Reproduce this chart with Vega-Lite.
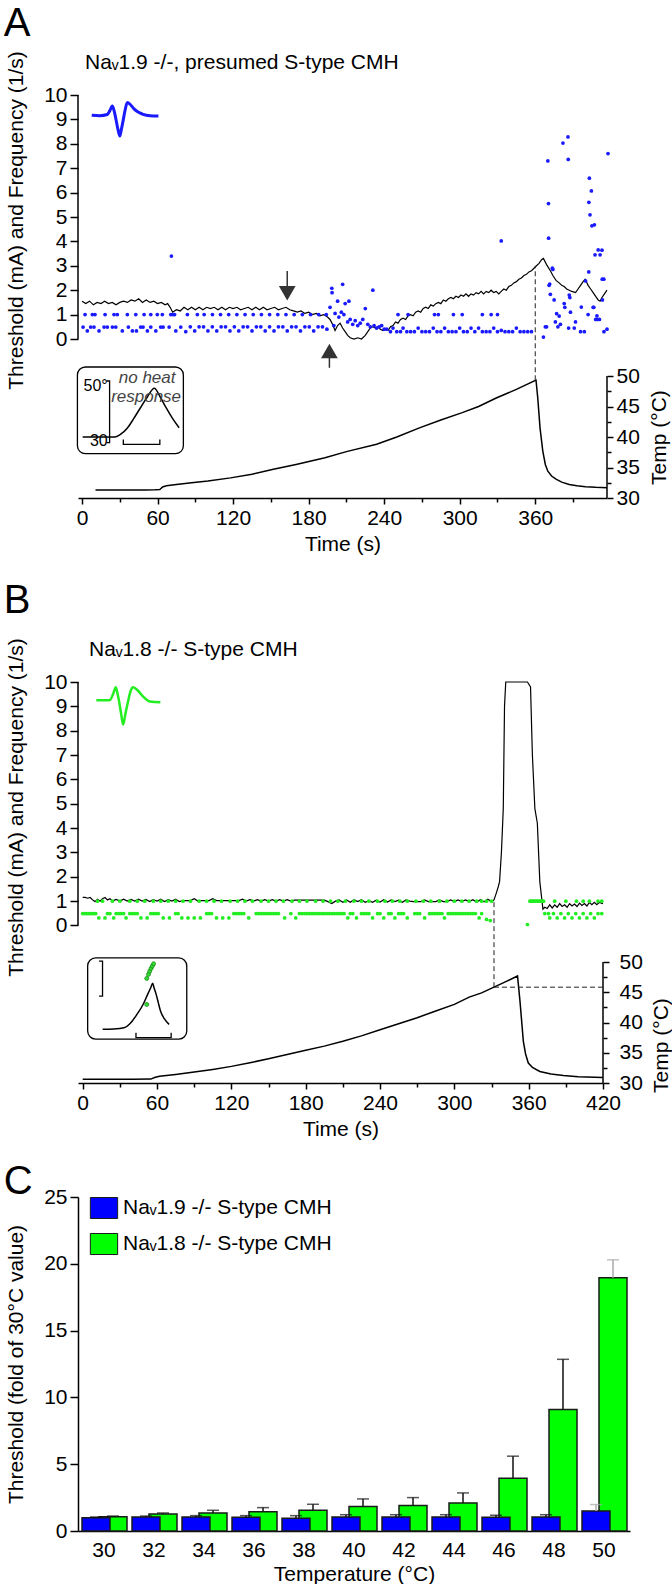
{
"$schema":"https://vega.github.io/schema/vega-lite/v6.json",
"padding":{"left":3,"right":0,"top":3,"bottom":0},
"background":"white",
"config":{
 "font":"Liberation Sans",
 "view":{"stroke":null},
 "title":{"font":"Liberation Sans","fontWeight":"normal","color":"#000"},
 "axis":{"labelFont":"Liberation Sans","titleFont":"Liberation Sans","labelFontSize":21,"titleFontSize":21,"titleFontWeight":"normal","labelColor":"#000","titleColor":"#000","domainColor":"#000","tickColor":"#000","domainWidth":1.5,"tickWidth":1.5,"grid":false,"labelOverlap":false,"labelFlush":false,"labelBound":false},
 "legend":{"labelFont":"Liberation Sans"}
},
"datasets":{
 "thrA":[{"t":0,"v":1.55},{"t":3,"v":1.45},{"t":6,"v":1.55},{"t":9,"v":1.4},{"t":12,"v":1.5},{"t":15,"v":1.45},{"t":18,"v":1.55},{"t":21,"v":1.45},{"t":24,"v":1.5},{"t":27,"v":1.4},{"t":30,"v":1.5},{"t":33,"v":1.55},{"t":36,"v":1.5},{"t":39,"v":1.6},{"t":42,"v":1.55},{"t":45,"v":1.65},{"t":48,"v":1.5},{"t":51,"v":1.6},{"t":54,"v":1.5},{"t":57,"v":1.55},{"t":60,"v":1.45},{"t":63,"v":1.5},{"t":66,"v":1.4},{"t":68,"v":1.45},{"t":70,"v":1.3},{"t":72,"v":1.1},{"t":75,"v":1.2},{"t":78,"v":1.15},{"t":81,"v":1.3},{"t":84,"v":1.2},{"t":87,"v":1.3},{"t":90,"v":1.2},{"t":93,"v":1.3},{"t":96,"v":1.2},{"t":99,"v":1.3},{"t":102,"v":1.25},{"t":105,"v":1.3},{"t":108,"v":1.2},{"t":111,"v":1.3},{"t":114,"v":1.2},{"t":117,"v":1.3},{"t":120,"v":1.25},{"t":123,"v":1.3},{"t":126,"v":1.2},{"t":129,"v":1.25},{"t":132,"v":1.3},{"t":135,"v":1.2},{"t":138,"v":1.3},{"t":141,"v":1.2},{"t":144,"v":1.3},{"t":147,"v":1.2},{"t":150,"v":1.25},{"t":153,"v":1.3},{"t":156,"v":1.2},{"t":159,"v":1.25},{"t":162,"v":1.3},{"t":165,"v":1.2},{"t":168,"v":1.15},{"t":171,"v":1.1},{"t":174,"v":1.15},{"t":177,"v":1.05},{"t":180,"v":1.1},{"t":183,"v":1.0},{"t":186,"v":1.05},{"t":189,"v":0.95},{"t":192,"v":1.0},{"t":195,"v":0.9},{"t":197,"v":0.8},{"t":199,"v":0.6},{"t":201,"v":0.35},{"t":203,"v":0.55},{"t":205,"v":0.65},{"t":207,"v":0.45},{"t":209,"v":0.3},{"t":211,"v":0.15},{"t":213,"v":0.05},{"t":216,"v":0.0},{"t":219,"v":0.05},{"t":222,"v":0.0},{"t":225,"v":0.15},{"t":227,"v":0.3},{"t":229,"v":0.45},{"t":231,"v":0.5},{"t":233,"v":0.45},{"t":235,"v":0.5},{"t":237,"v":0.4},{"t":239,"v":0.35},{"t":241,"v":0.4},{"t":243,"v":0.35},{"t":245,"v":0.5},{"t":247,"v":0.55},{"t":249,"v":0.7},{"t":251,"v":0.65},{"t":253,"v":0.8},{"t":255,"v":0.85},{"t":257,"v":0.8},{"t":259,"v":0.95},{"t":261,"v":1.0},{"t":263,"v":0.95},{"t":265,"v":1.1},{"t":267,"v":1.15},{"t":269,"v":1.1},{"t":271,"v":1.25},{"t":273,"v":1.3},{"t":275,"v":1.25},{"t":277,"v":1.4},{"t":279,"v":1.35},{"t":281,"v":1.45},{"t":283,"v":1.5},{"t":285,"v":1.45},{"t":287,"v":1.6},{"t":289,"v":1.55},{"t":291,"v":1.65},{"t":293,"v":1.7},{"t":295,"v":1.65},{"t":297,"v":1.75},{"t":299,"v":1.7},{"t":301,"v":1.8},{"t":303,"v":1.75},{"t":305,"v":1.85},{"t":307,"v":1.75},{"t":309,"v":1.85},{"t":311,"v":1.8},{"t":313,"v":1.9},{"t":315,"v":1.85},{"t":317,"v":1.95},{"t":319,"v":1.85},{"t":321,"v":1.95},{"t":323,"v":1.9},{"t":325,"v":2.0},{"t":327,"v":1.9},{"t":329,"v":1.95},{"t":331,"v":1.85},{"t":333,"v":1.95},{"t":335,"v":2.05},{"t":337,"v":2.0},{"t":339,"v":2.15},{"t":341,"v":2.2},{"t":343,"v":2.3},{"t":345,"v":2.35},{"t":347,"v":2.45},{"t":349,"v":2.5},{"t":351,"v":2.6},{"t":353,"v":2.65},{"t":355,"v":2.75},{"t":357,"v":2.8},{"t":359,"v":2.9},{"t":361,"v":3.0},{"t":363,"v":3.1},{"t":365,"v":3.25},{"t":366.5,"v":3.3},{"t":369,"v":3.05},{"t":372,"v":2.8},{"t":374,"v":2.6},{"t":376.5,"v":2.4},{"t":379,"v":2.3},{"t":381,"v":2.2},{"t":383,"v":2.15},{"t":385,"v":2.05},{"t":387,"v":2.0},{"t":389,"v":1.95},{"t":392,"v":1.9},{"t":394,"v":2.05},{"t":396,"v":2.2},{"t":398,"v":2.35},{"t":399.6,"v":2.45},{"t":402,"v":2.2},{"t":404,"v":2.05},{"t":406,"v":1.9},{"t":408,"v":1.75},{"t":410,"v":1.6},{"t":411.5,"v":1.55},{"t":413,"v":1.7},{"t":415,"v":1.85},{"t":417,"v":2.0}],
 "freqA":[{"t":2.4,"f":1},{"t":8.2,"f":1},{"t":10.3,"f":1},{"t":18.3,"f":1},{"t":25.4,"f":1},{"t":28,"f":1},{"t":36,"f":1},{"t":42.7,"f":1},{"t":49.3,"f":1},{"t":54.6,"f":1},{"t":59.8,"f":1},{"t":63.8,"f":1},{"t":70.5,"f":1},{"t":72.3,"f":1},{"t":73.5,"f":1},{"t":83.7,"f":1},{"t":91.6,"f":1},{"t":97,"f":1},{"t":103.6,"f":1},{"t":110,"f":1},{"t":116.5,"f":1},{"t":123,"f":1},{"t":129.5,"f":1},{"t":136,"f":1},{"t":142.5,"f":1},{"t":149,"f":1},{"t":155.5,"f":1},{"t":162,"f":1},{"t":168.5,"f":1},{"t":175,"f":1},{"t":181.5,"f":1},{"t":188,"f":1},{"t":194,"f":1},
  {"t":0.8,"f":0.49},{"t":4.2,"f":0.33},{"t":6.9,"f":0.49},{"t":9.5,"f":0.49},{"t":13.5,"f":0.33},{"t":17.5,"f":0.49},{"t":20.1,"f":0.49},{"t":24.1,"f":0.49},{"t":26.8,"f":0.49},{"t":32,"f":0.33},{"t":36.8,"f":0.49},{"t":40,"f":0.33},{"t":43.2,"f":0.33},{"t":46.6,"f":0.49},{"t":48.5,"f":0.49},{"t":51.9,"f":0.33},{"t":54.6,"f":0.49},{"t":58.6,"f":0.33},{"t":62.5,"f":0.49},{"t":64.4,"f":0.49},{"t":69.2,"f":0.49},{"t":74.5,"f":0.33},{"t":78.4,"f":0.49},{"t":82.4,"f":0.3},{"t":86,"f":0.5},{"t":89.5,"f":0.33},{"t":93,"f":0.5},{"t":96.5,"f":0.5},{"t":100,"f":0.33},{"t":103.5,"f":0.5},{"t":107,"f":0.33},{"t":110.5,"f":0.5},{"t":114,"f":0.5},{"t":117.5,"f":0.33},{"t":121,"f":0.5},{"t":124.5,"f":0.33},{"t":128,"f":0.5},{"t":131.5,"f":0.5},{"t":135,"f":0.33},{"t":138.5,"f":0.5},{"t":142,"f":0.5},{"t":145.5,"f":0.33},{"t":149,"f":0.5},{"t":152.5,"f":0.33},{"t":156,"f":0.5},{"t":159.5,"f":0.5},{"t":163,"f":0.33},{"t":166.5,"f":0.5},{"t":170,"f":0.5},{"t":173.5,"f":0.33},{"t":177,"f":0.5},{"t":180.5,"f":0.5},{"t":184,"f":0.33},{"t":187.5,"f":0.5},{"t":191,"f":0.5},{"t":194.5,"f":0.4},
  {"t":71,"f":3.4},
  {"t":197,"f":1.3},{"t":198.4,"f":2.08},{"t":198.6,"f":1.9},{"t":200,"f":0.55},{"t":201,"f":1.05},{"t":203,"f":1.55},{"t":204,"f":0.9},{"t":206,"f":1.1},{"t":207,"f":2.24},{"t":208,"f":1.0},{"t":209,"f":1.45},{"t":211,"f":0.7},{"t":212,"f":1.55},{"t":213,"f":0.8},{"t":215,"f":0.6},{"t":217,"f":0.75},{"t":219,"f":0.55},{"t":221,"f":0.65},{"t":223,"f":0.8},{"t":225,"f":1.25},{"t":227,"f":0.6},{"t":229,"f":0.5},{"t":231,"f":2.0},{"t":232,"f":0.55},{"t":234,"f":0.45},{"t":236,"f":0.5},{"t":238,"f":0.55},{"t":240,"f":0.4},
  {"t":251,"f":1},{"t":259,"f":1},{"t":280,"f":1},{"t":283,"f":1},{"t":295,"f":1},{"t":302,"f":1},{"t":318,"f":1},{"t":325,"f":1},{"t":330,"f":1},{"t":333,"f":4.02},
  {"t":242,"f":0.4},{"t":245,"f":0.3},{"t":247,"f":0.45},{"t":250,"f":0.3},{"t":253,"f":0.3},{"t":255,"f":0.45},{"t":258,"f":0.3},{"t":261,"f":0.3},{"t":264,"f":0.3},{"t":267,"f":0.45},{"t":270,"f":0.3},{"t":273,"f":0.3},{"t":276,"f":0.3},{"t":279,"f":0.45},{"t":282,"f":0.3},{"t":285,"f":0.3},{"t":288,"f":0.45},{"t":291,"f":0.3},{"t":294,"f":0.3},{"t":297,"f":0.3},{"t":300,"f":0.45},{"t":303,"f":0.3},{"t":306,"f":0.3},{"t":309,"f":0.45},{"t":312,"f":0.3},{"t":315,"f":0.45},{"t":318,"f":0.3},{"t":321,"f":0.3},{"t":324,"f":0.3},{"t":327,"f":0.45},{"t":330,"f":0.3},{"t":333,"f":0.35},{"t":336,"f":0.3},{"t":339,"f":0.3},{"t":342,"f":0.3},{"t":345,"f":0.45},{"t":348,"f":0.3},{"t":351,"f":0.3},{"t":354,"f":0.3},{"t":357,"f":0.3},
  {"t":366.5,"f":0.08},{"t":368,"f":0.5},{"t":369,"f":0.5},{"t":370,"f":7.3},{"t":370.5,"f":5.55},{"t":370.6,"f":4.13},{"t":371,"f":2.2},{"t":371.5,"f":2.25},{"t":372,"f":1.83},{"t":373.6,"f":2.9},{"t":374,"f":2.85},{"t":375,"f":1.6},{"t":376,"f":0.7},{"t":377,"f":1.04},{"t":379,"f":0.94},{"t":378,"f":0.5},{"t":380,"f":0.6},{"t":382,"f":8.03},{"t":383,"f":1.45},{"t":383.5,"f":1.3},{"t":386,"f":8.28},{"t":386.2,"f":7.36},{"t":387,"f":1.8},{"t":387.5,"f":1.7},{"t":386.5,"f":0.45},{"t":388,"f":1.1},{"t":392,"f":0.7},{"t":391,"f":0.45},{"t":396.6,"f":1.31},{"t":396,"f":0.3},{"t":399,"f":0.3},{"t":400,"f":2.38},{"t":402.5,"f":2.75},{"t":402.6,"f":5.6},{"t":403,"f":6.59},{"t":403.5,"f":5.09},{"t":404.6,"f":6.07},{"t":405,"f":4.64},{"t":402,"f":1.0},{"t":406,"f":1.3},{"t":406.5,"f":1.3},{"t":407,"f":4.68},{"t":407.5,"f":3.45},{"t":408,"f":0.8},{"t":409,"f":0.95},{"t":409.5,"f":0.8},{"t":410,"f":3.65},{"t":411,"f":0.8},{"t":411.5,"f":3.45},{"t":413,"f":3.64},{"t":413.2,"f":2.45},{"t":413.4,"f":1.6},{"t":414.5,"f":2.45},{"t":414.6,"f":0.3},{"t":417,"f":0.4},{"t":417.8,"f":7.6}],
 "wavA":[{"t":7.7,"v":9.17},{"t":14,"v":9.15},{"t":20.1,"v":9.2},{"t":22,"v":9.35},{"t":24.1,"v":9.55},{"t":25.5,"v":9.35},{"t":26.7,"v":9.07},{"t":28.5,"v":8.6},{"t":30,"v":8.32},{"t":31.3,"v":8.6},{"t":32.6,"v":8.94},{"t":34.3,"v":9.4},{"t":36,"v":9.69},{"t":38.5,"v":9.6},{"t":41.3,"v":9.43},{"t":44.5,"v":9.3},{"t":47.9,"v":9.22},{"t":54,"v":9.15},{"t":60.7,"v":9.14}],
 "tempA":[{"t":10.7,"c":31.3},{"t":30,"c":31.3},{"t":50,"c":31.3},{"t":58,"c":31.35},{"t":61.8,"c":31.4},{"t":64,"c":31.8},{"t":67,"c":32.0},{"t":75,"c":32.2},{"t":87,"c":32.5},{"t":100,"c":32.8},{"t":118,"c":33.3},{"t":135,"c":33.9},{"t":152,"c":34.7},{"t":170,"c":35.5},{"t":193,"c":36.6},{"t":210,"c":37.6},{"t":234,"c":38.8},{"t":250,"c":40.0},{"t":268,"c":41.5},{"t":285,"c":42.8},{"t":302,"c":44.0},{"t":315,"c":45.0},{"t":329,"c":46.4},{"t":345,"c":47.8},{"t":360.6,"c":49.34},{"t":362,"c":46.4},{"t":363.8,"c":41.5},{"t":366,"c":37.7},{"t":368,"c":35.5},{"t":370,"c":34.4},{"t":373,"c":33.6},{"t":376.5,"c":33.1},{"t":381,"c":32.6},{"t":387,"c":32.2},{"t":393,"c":32.0},{"t":400,"c":31.85},{"t":408,"c":31.75},{"t":417,"c":31.7}],
 "insA":[{"t":0.5,"c":40.0},{"t":26,"c":40.0},{"t":31,"c":40.5},{"t":36.2,"c":41.52},{"t":41,"c":43.0},{"t":46.4,"c":44.8},{"t":52,"c":46.6},{"t":57.4,"c":47.98},{"t":62,"c":46.6},{"t":66.8,"c":44.8},{"t":72,"c":43.0},{"t":77.1,"c":41.52}],
 "brA":[{"o":1,"t":19.3,"c":49.18},{"o":2,"t":21.9,"c":49.18},{"o":3,"t":21.9,"c":39.07},{"o":4,"t":19.3,"c":39.07}],
 "sbA":[{"o":1,"t":32.8,"c":39.6},{"o":2,"t":32.8,"c":38.8},{"o":3,"t":61.8,"c":38.8},{"o":4,"t":61.8,"c":39.6}],
 "labA":[{"t":20.4,"c":48.4,"s":"50°"},{"t":20.4,"c":39.3,"s":"30"}],
 "nhA":[{"t":51.7,"c":49.72,"s":"no heat"},{"t":50.9,"c":46.56,"s":"response"}],
 "thrB":[{"t":0,"v":1.15},{"t":2,"v":1.15},{"t":4,"v":1.12},{"t":6,"v":1.15},{"t":8,"v":1.05},{"t":10,"v":0.98},{"t":12,"v":1.08},{"t":14,"v":1.0},{"t":16,"v":1.1},{"t":18,"v":1.15},{"t":20,"v":1.05},{"t":22,"v":1.1},{"t":24,"v":1.0},{"t":27,"v":1.07},{"t":30,"v":1.0},{"t":33,"v":1.08},{"t":36,"v":1.0},{"t":39,"v":1.07},{"t":42,"v":1.0},{"t":45,"v":1.08},{"t":48,"v":1.0},{"t":51,"v":1.07},{"t":54,"v":0.98},{"t":57,"v":1.06},{"t":60,"v":1.0},{"t":63,"v":1.08},{"t":66,"v":0.98},{"t":69,"v":1.06},{"t":72,"v":1.0},{"t":75,"v":1.08},{"t":78,"v":0.98},{"t":81,"v":1.02},{"t":84,"v":1.02},{"t":87,"v":1.02},{"t":90,"v":1.1},{"t":93,"v":1.0},{"t":96,"v":1.02},{"t":99,"v":1.02},{"t":102,"v":1.02},{"t":105,"v":1.1},{"t":108,"v":1.02},{"t":111,"v":1.02},{"t":114,"v":1.02},{"t":117,"v":1.02},{"t":120,"v":1.02},{"t":123,"v":1.02},{"t":126,"v":1.02},{"t":129,"v":1.08},{"t":132,"v":1.0},{"t":135,"v":1.06},{"t":138,"v":1.0},{"t":141,"v":1.06},{"t":144,"v":1.0},{"t":147,"v":1.06},{"t":150,"v":1.0},{"t":153,"v":1.06},{"t":156,"v":1.0},{"t":159,"v":1.06},{"t":162,"v":1.0},{"t":165,"v":1.06},{"t":168,"v":1.0},{"t":171,"v":1.04},{"t":174,"v":1.04},{"t":177,"v":1.04},{"t":180,"v":1.04},{"t":183,"v":1.04},{"t":186,"v":1.04},{"t":189,"v":1.04},{"t":192,"v":1.04},{"t":195,"v":1.04},{"t":198,"v":0.98},{"t":201,"v":0.9},{"t":204,"v":1.0},{"t":207,"v":1.05},{"t":210,"v":0.95},{"t":213,"v":1.05},{"t":216,"v":0.95},{"t":219,"v":1.06},{"t":222,"v":0.98},{"t":225,"v":1.06},{"t":228,"v":0.95},{"t":231,"v":1.02},{"t":234,"v":0.95},{"t":237,"v":1.04},{"t":240,"v":0.96},{"t":243,"v":1.06},{"t":246,"v":0.96},{"t":249,"v":1.05},{"t":252,"v":0.98},{"t":255,"v":1.04},{"t":258,"v":0.95},{"t":261,"v":1.05},{"t":264,"v":1.0},{"t":267,"v":0.98},{"t":270,"v":0.98},{"t":273,"v":0.98},{"t":276,"v":1.05},{"t":279,"v":0.98},{"t":282,"v":0.98},{"t":285,"v":0.98},{"t":288,"v":1.05},{"t":291,"v":0.98},{"t":294,"v":0.98},{"t":297,"v":1.05},{"t":300,"v":0.98},{"t":303,"v":1.05},{"t":306,"v":0.98},{"t":309,"v":1.05},{"t":312,"v":0.98},{"t":315,"v":1.06},{"t":318,"v":0.95},{"t":321,"v":1.06},{"t":324,"v":0.97},{"t":327,"v":1.08},{"t":330,"v":0.98},{"t":332,"v":1.05},{"t":334,"v":1.35},{"t":335.5,"v":1.6},{"t":336.5,"v":1.8},{"t":338,"v":3.0},{"t":339.5,"v":4.8},{"t":340.5,"v":9.0},{"t":341.5,"v":10},{"t":350,"v":10},{"t":359,"v":10},{"t":361.5,"v":9.8},{"t":363,"v":7.0},{"t":365,"v":4.8},{"t":367,"v":4.2},{"t":369,"v":1.8},{"t":371.5,"v":0.67},{"t":373,"v":0.75},{"t":375,"v":0.7},{"t":377,"v":0.85},{"t":379,"v":0.72},{"t":381,"v":0.85},{"t":383,"v":0.75},{"t":385,"v":0.9},{"t":387,"v":0.78},{"t":389,"v":0.85},{"t":391,"v":0.75},{"t":393,"v":0.9},{"t":395,"v":0.8},{"t":397,"v":0.88},{"t":399,"v":0.78},{"t":401,"v":0.92},{"t":403,"v":0.82},{"t":405,"v":0.9},{"t":407,"v":0.8},{"t":409,"v":0.95},{"t":411,"v":0.85},{"t":413,"v":0.95},{"t":415,"v":0.85},{"t":417,"v":0.95},{"t":420,"v":0.9}],
 "freqB":[{"t":12,"f":1},{"t":16,"f":1},{"t":24,"f":1},{"t":30,"f":1},{"t":38,"f":1},{"t":44,"f":1},{"t":50,"f":1},{"t":57,"f":1},{"t":63,"f":1},{"t":69,"f":1},{"t":75,"f":1},{"t":81,"f":1},{"t":87,"f":1},{"t":94,"f":1},{"t":100,"f":1},{"t":106,"f":1},{"t":112,"f":1},{"t":119,"f":1},{"t":125,"f":1},{"t":131,"f":1},{"t":137,"f":1},{"t":144,"f":1},{"t":150,"f":1},{"t":156,"f":1},{"t":162,"f":1},{"t":169,"f":1},{"t":175,"f":1},{"t":181,"f":1},{"t":188,"f":1},{"t":194,"f":1},{"t":200,"f":1},{"t":206,"f":1},{"t":212,"f":1},{"t":219,"f":1},{"t":225,"f":1},{"t":231,"f":1},{"t":238,"f":1},{"t":244,"f":1},{"t":250,"f":1},{"t":256,"f":1},{"t":262,"f":1},{"t":269,"f":1},{"t":275,"f":1},{"t":281,"f":1},{"t":288,"f":1},{"t":294,"f":1},{"t":300,"f":1},{"t":306,"f":1},{"t":312,"f":1},{"t":318,"f":1},{"t":322,"f":1},{"t":326,"f":1},{"t":330,"f":1},
  {"t":0,"f":0.49},{"t":1.5,"f":0.49},{"t":3,"f":0.49},{"t":4.5,"f":0.49},{"t":6,"f":0.49},{"t":7.5,"f":0.49},{"t":9,"f":0.49},{"t":10.5,"f":0.49},{"t":20,"f":0.49},{"t":22,"f":0.49},{"t":27,"f":0.49},{"t":29,"f":0.49},{"t":31,"f":0.49},{"t":33,"f":0.49},{"t":38,"f":0.49},{"t":40,"f":0.49},{"t":42,"f":0.49},{"t":44,"f":0.49},{"t":55,"f":0.49},{"t":57,"f":0.49},{"t":59,"f":0.49},{"t":61,"f":0.49},{"t":75,"f":0.49},{"t":77,"f":0.49},{"t":100,"f":0.49},{"t":102,"f":0.49},{"t":104,"f":0.49},{"t":122,"f":0.49},{"t":124,"f":0.49},{"t":126,"f":0.49},{"t":128,"f":0.49},{"t":130,"f":0.49},{"t":140,"f":0.49},{"t":142,"f":0.49},{"t":144,"f":0.49},{"t":146,"f":0.49},{"t":148,"f":0.49},{"t":150,"f":0.49},{"t":152,"f":0.49},{"t":154,"f":0.49},{"t":156,"f":0.49},{"t":158,"f":0.49},{"t":168,"f":0.49},{"t":175,"f":0.49},{"t":177,"f":0.49},{"t":179,"f":0.49},{"t":181,"f":0.49},{"t":183,"f":0.49},{"t":185,"f":0.49},{"t":187,"f":0.49},{"t":189,"f":0.49},{"t":191,"f":0.49},{"t":193,"f":0.49},{"t":195,"f":0.49},{"t":197,"f":0.49},{"t":199,"f":0.49},{"t":201,"f":0.49},{"t":203,"f":0.49},{"t":205,"f":0.49},{"t":207,"f":0.49},{"t":209,"f":0.49},{"t":211,"f":0.49},{"t":216,"f":0.49},{"t":218,"f":0.49},{"t":225,"f":0.49},{"t":227,"f":0.49},{"t":229,"f":0.49},{"t":231,"f":0.49},{"t":238,"f":0.49},{"t":240,"f":0.49},{"t":247,"f":0.49},{"t":249,"f":0.49},{"t":255,"f":0.49},{"t":257,"f":0.49},{"t":259,"f":0.49},{"t":268,"f":0.49},{"t":270,"f":0.49},{"t":272,"f":0.49},{"t":280,"f":0.49},{"t":282,"f":0.49},{"t":284,"f":0.49},{"t":286,"f":0.49},{"t":288,"f":0.49},{"t":290,"f":0.49},{"t":295,"f":0.49},{"t":297,"f":0.49},{"t":299,"f":0.49},{"t":301,"f":0.49},{"t":303,"f":0.49},{"t":305,"f":0.49},{"t":307,"f":0.49},{"t":309,"f":0.49},{"t":311,"f":0.49},{"t":313,"f":0.49},{"t":315,"f":0.49},{"t":317,"f":0.49},{"t":322,"f":0.49},
  {"t":13,"f":0.31},{"t":18,"f":0.31},{"t":25,"f":0.31},{"t":35,"f":0.31},{"t":47,"f":0.31},{"t":52,"f":0.31},{"t":65,"f":0.31},{"t":70,"f":0.31},{"t":80,"f":0.31},{"t":85,"f":0.31},{"t":90,"f":0.31},{"t":95,"f":0.31},{"t":108,"f":0.31},{"t":113,"f":0.31},{"t":118,"f":0.31},{"t":134,"f":0.31},{"t":163,"f":0.31},{"t":172,"f":0.31},{"t":214,"f":0.31},{"t":221,"f":0.31},{"t":234,"f":0.31},{"t":243,"f":0.31},{"t":252,"f":0.31},{"t":262,"f":0.31},{"t":276,"f":0.31},{"t":292,"f":0.31},{"t":320,"f":0.31},{"t":326,"f":0.25},{"t":329,"f":0.2},
  {"t":359,"f":0.04},{"t":361,"f":1},{"t":362,"f":1},{"t":363,"f":1},{"t":364,"f":1},{"t":365,"f":1},{"t":366,"f":1},{"t":367,"f":1},{"t":368,"f":1},{"t":369,"f":1},{"t":370,"f":1},{"t":371,"f":1},{"t":372,"f":1},{"t":381,"f":1},{"t":390,"f":1},{"t":398.6,"f":1},{"t":404,"f":1},{"t":409,"f":1},{"t":416,"f":1},{"t":419,"f":1},
  {"t":373,"f":0.49},{"t":376,"f":0.49},{"t":380,"f":0.49},{"t":386,"f":0.49},{"t":392,"f":0.49},{"t":398,"f":0.49},{"t":404,"f":0.49},{"t":410,"f":0.49},{"t":416,"f":0.49},{"t":419,"f":0.49},{"t":377,"f":0.31},{"t":383,"f":0.31},{"t":389,"f":0.31},{"t":395,"f":0.31},{"t":401,"f":0.31},{"t":407,"f":0.31},{"t":413,"f":0.31}],
 "wavB":[{"t":11,"v":9.25},{"t":21.8,"v":9.25},{"t":24.5,"v":9.5},{"t":26.7,"v":9.78},{"t":28,"v":9.55},{"t":29.4,"v":9.2},{"t":31,"v":8.7},{"t":32.6,"v":8.25},{"t":34.5,"v":8.7},{"t":36.6,"v":9.2},{"t":38.5,"v":9.6},{"t":40.7,"v":9.78},{"t":44.5,"v":9.65},{"t":48.8,"v":9.4},{"t":54.2,"v":9.2},{"t":62.7,"v":9.17}],
 "tempB":[{"t":0,"c":30.6},{"t":20,"c":30.6},{"t":40,"c":30.6},{"t":55,"c":30.65},{"t":58,"c":30.9},{"t":62,"c":31.1},{"t":75,"c":31.4},{"t":90,"c":31.8},{"t":105,"c":32.25},{"t":120,"c":32.75},{"t":135,"c":33.35},{"t":150,"c":34.0},{"t":165,"c":34.7},{"t":180,"c":35.4},{"t":195,"c":36.1},{"t":210,"c":36.9},{"t":225,"c":37.8},{"t":240,"c":38.8},{"t":255,"c":39.8},{"t":270,"c":40.8},{"t":285,"c":41.9},{"t":300,"c":43.0},{"t":312,"c":44.2},{"t":322,"c":44.9},{"t":332,"c":45.85},{"t":342,"c":46.8},{"t":351,"c":47.7},{"t":353,"c":43.5},{"t":355.7,"c":36.9},{"t":357.5,"c":34.8},{"t":359.7,"c":33.3},{"t":363,"c":32.6},{"t":369,"c":31.9},{"t":378,"c":31.5},{"t":388,"c":31.25},{"t":400,"c":31.05},{"t":420,"c":30.9}],
 "insB":[{"t":16.1,"c":38.9},{"t":25,"c":38.95},{"t":33.4,"c":39.15},{"t":39,"c":40.0},{"t":43.8,"c":41.36},{"t":48.5,"c":42.9},{"t":52.4,"c":44.66},{"t":55,"c":45.8},{"t":56.5,"c":46.48},{"t":57.5,"c":45.8},{"t":59.3,"c":44.66},{"t":61,"c":43.3},{"t":62.8,"c":41.9},{"t":66,"c":40.6},{"t":69.7,"c":39.7}],
 "brB":[{"o":1,"t":13.2,"c":50.17},{"o":2,"t":16,"c":50.17},{"o":3,"t":16,"c":44.38},{"o":4,"t":13.2,"c":44.38}],
 "sbB":[{"o":1,"t":43,"c":38.3},{"o":2,"t":43,"c":37.49},{"o":3,"t":71.4,"c":37.49},{"o":4,"t":71.4,"c":38.3}],
 "dotB":[{"t":51.7,"c":47.3},{"t":53.1,"c":47.97},{"t":54.1,"c":48.5},{"t":55.2,"c":48.96},{"t":56.2,"c":49.34},{"t":57.2,"c":49.72},{"t":51.7,"c":43.0}],
 "bars":[
  {"temp":"30","k":"b","series":"Naᵥ1.9 -/- S-type CMH","mean":1.0,"err":1.05},{"temp":"32","k":"b","series":"Naᵥ1.9 -/- S-type CMH","mean":1.05,"err":1.12},{"temp":"34","k":"b","series":"Naᵥ1.9 -/- S-type CMH","mean":1.05,"err":1.15},{"temp":"36","k":"b","series":"Naᵥ1.9 -/- S-type CMH","mean":1.02,"err":1.15},{"temp":"38","k":"b","series":"Naᵥ1.9 -/- S-type CMH","mean":0.95,"err":1.15},{"temp":"40","k":"b","series":"Naᵥ1.9 -/- S-type CMH","mean":1.05,"err":1.22},{"temp":"42","k":"b","series":"Naᵥ1.9 -/- S-type CMH","mean":1.05,"err":1.22},{"temp":"44","k":"b","series":"Naᵥ1.9 -/- S-type CMH","mean":1.05,"err":1.22},{"temp":"46","k":"b","series":"Naᵥ1.9 -/- S-type CMH","mean":1.02,"err":1.18},{"temp":"48","k":"b","series":"Naᵥ1.9 -/- S-type CMH","mean":1.05,"err":1.22},{"temp":"50","k":"b","series":"Naᵥ1.9 -/- S-type CMH","mean":1.5,"err":1.98},
  {"temp":"30","k":"g","series":"Naᵥ1.8 -/- S-type CMH","mean":1.07,"err":1.12},{"temp":"32","k":"g","series":"Naᵥ1.8 -/- S-type CMH","mean":1.27,"err":1.35},{"temp":"34","k":"g","series":"Naᵥ1.8 -/- S-type CMH","mean":1.35,"err":1.55},{"temp":"36","k":"g","series":"Naᵥ1.8 -/- S-type CMH","mean":1.45,"err":1.75},{"temp":"38","k":"g","series":"Naᵥ1.8 -/- S-type CMH","mean":1.55,"err":2.0},{"temp":"40","k":"g","series":"Naᵥ1.8 -/- S-type CMH","mean":1.83,"err":2.4},{"temp":"42","k":"g","series":"Naᵥ1.8 -/- S-type CMH","mean":1.9,"err":2.5},{"temp":"44","k":"g","series":"Naᵥ1.8 -/- S-type CMH","mean":2.1,"err":2.85},{"temp":"46","k":"g","series":"Naᵥ1.8 -/- S-type CMH","mean":3.95,"err":5.6},{"temp":"48","k":"g","series":"Naᵥ1.8 -/- S-type CMH","mean":9.1,"err":12.85},{"temp":"50","k":"g","series":"Naᵥ1.8 -/- S-type CMH","mean":18.95,"err":20.3}]
},
"spacing":23,
"resolve":{"scale":{"color":"independent"},"legend":{"color":"independent"}},
"vconcat":[
 {"spacing":26,"vconcat":[
 {
  "title":{"text":"A","fontSize":40,"anchor":"start","frame":"bounds","offset":7,"dx":-2},
  "vconcat":[{
   "title":{"text":"Naᵥ1.9 -/-, presumed S-type CMH","anchor":"start","frame":"group","fontSize":21,"offset":-22,"dx":7},
   "width":529,"height":403,
   "layer":[
     {"data":{"name":"thrA"},"mark":{"type":"line","color":"#000","strokeWidth":1.2},
      "encoding":{
       "x":{"field":"t","type":"quantitative","scale":{"domain":[-3.2,417],"nice":false,"zero":false},
            "axis":{"values":[0,30,60,90,120,150,180,210,240,270,300,330,360,390],"labelExpr":"datum.value % 60 == 0 ? datum.label : ''","tickSize":{"condition":{"test":"datum.value % 60 == 0","value":6},"value":4},"labelPadding":3,"title":"Time (s)","titlePadding":5}},
       "y":{"field":"v","type":"quantitative","scale":{"domain":[-6.516,10],"nice":false,"zero":false},
            "axis":{"values":[0,1,2,3,4,5,6,7,8,9,10],"domain":false,"tickSize":8,"labelPadding":3,"title":"Threshold (mA) and Frequency (1/s)","titleY":125,"titlePadding":17}}}},
     {"data":{"name":"tempA"},"mark":{"type":"line","color":"#000","strokeWidth":1.5},
      "encoding":{"x":{"field":"t","type":"quantitative","scale":{"domain":[-3.2,417],"nice":false,"zero":false},"axis":null},
                  "y":{"field":"c","type":"quantitative","scale":{"domain":[30,96.07],"nice":false,"zero":false},
                       "axis":{"orient":"right","values":[30,32.5,35,37.5,40,42.5,45,47.5,50],"labelExpr":"datum.value % 5 == 0 ? datum.label : ''","tickSize":{"condition":{"test":"datum.value % 5 == 0","value":6},"value":4},"domain":false,"labelPadding":3,"title":"Temp (°C)","titleAngle":270,"titleBaseline":"top","titleY":342,"titlePadding":9}}}},
     {"data":{"name":"freqA"},"mark":{"type":"point","filled":true,"color":"#1a1aff","size":14,"opacity":1},
      "encoding":{"x":{"field":"t","type":"quantitative","scale":{"domain":[-3.2,417],"nice":false,"zero":false},"axis":null},
                  "y":{"field":"f","type":"quantitative","scale":{"domain":[-6.516,10],"nice":false,"zero":false},"axis":null}}},
     {"data":{"name":"wavA"},"mark":{"type":"line","color":"#1a1aff","strokeWidth":3,"interpolate":"monotone"},
      "encoding":{"x":{"field":"t","type":"quantitative","scale":{"domain":[-3.2,417],"nice":false,"zero":false},"axis":null},
                  "y":{"field":"v","type":"quantitative","scale":{"domain":[-6.516,10],"nice":false,"zero":false},"axis":null}}},
     {"data":{"values":[{"t":163,"a":2.79,"b":2.1},{"t":196.5,"a":-1.18,"b":-0.7}]},"mark":{"type":"rule","color":"#333","strokeWidth":1.5},
      "encoding":{"x":{"field":"t","type":"quantitative","scale":{"domain":[-3.2,417],"nice":false,"zero":false},"axis":null},
                  "y":{"field":"a","type":"quantitative","scale":{"domain":[-6.516,10],"nice":false,"zero":false},"axis":null},"y2":{"field":"b"}}},
     {"data":{"values":[{"t":163,"v":1.88}]},"mark":{"type":"point","shape":"triangle-down","filled":true,"color":"#333","size":280,"opacity":1},
      "encoding":{"x":{"field":"t","type":"quantitative","scale":{"domain":[-3.2,417],"nice":false,"zero":false},"axis":null},
                  "y":{"field":"v","type":"quantitative","scale":{"domain":[-6.516,10],"nice":false,"zero":false},"axis":null}}},
     {"data":{"values":[{"t":196.5,"v":-0.49}]},"mark":{"type":"point","shape":"triangle-up","filled":true,"color":"#333","size":280,"opacity":1},
      "encoding":{"x":{"field":"t","type":"quantitative","scale":{"domain":[-3.2,417],"nice":false,"zero":false},"axis":null},
                  "y":{"field":"v","type":"quantitative","scale":{"domain":[-6.516,10],"nice":false,"zero":false},"axis":null}}},
     {"data":{"values":[{}]},"mark":{"type":"rule","color":"#000","strokeWidth":1.5},
      "encoding":{"x":{"datum":-3.2,"type":"quantitative","scale":{"domain":[-3.2,417],"nice":false,"zero":false},"axis":null},
                  "y":{"datum":0,"type":"quantitative","scale":{"domain":[-6.516,10],"nice":false,"zero":false},"axis":null},"y2":{"datum":10}}},
     {"data":{"values":[{}]},"mark":{"type":"rule","color":"#000","strokeWidth":1.5},
      "encoding":{"x":{"datum":417,"type":"quantitative","scale":{"domain":[-3.2,417],"nice":false,"zero":false},"axis":null},
                  "y":{"datum":30,"type":"quantitative","scale":{"domain":[30,96.07],"nice":false,"zero":false},"axis":null},"y2":{"datum":50}}},
     {"data":{"values":[{}]},"mark":{"type":"rule","color":"#222","strokeWidth":1,"strokeDash":[5,3]},
      "encoding":{"x":{"datum":360,"type":"quantitative","scale":{"domain":[-3.2,417],"nice":false,"zero":false},"axis":null},
                  "y":{"datum":49.3,"type":"quantitative","scale":{"domain":[30,96.07],"nice":false,"zero":false},"axis":null},"y2":{"datum":68.07}}},
     {"data":{"values":[{}]},"mark":{"type":"rect","fill":"white","stroke":"#000","strokeWidth":1.3,"cornerRadius":8},
      "encoding":{"x":{"datum":-3.66,"type":"quantitative","scale":{"domain":[-3.2,417],"nice":false,"zero":false},"axis":null},"x2":{"datum":80.5},
                  "y":{"datum":37.26,"type":"quantitative","scale":{"domain":[30,96.07],"nice":false,"zero":false},"axis":null},"y2":{"datum":51.48}}},
     {"data":{"name":"insA"},"mark":{"type":"line","color":"#000","strokeWidth":1.5,"interpolate":"monotone"},
      "encoding":{"x":{"field":"t","type":"quantitative","scale":{"domain":[-3.2,417],"nice":false,"zero":false},"axis":null},
                  "y":{"field":"c","type":"quantitative","scale":{"domain":[30,96.07],"nice":false,"zero":false},"axis":null}}},
     {"data":{"name":"brA"},"mark":{"type":"line","color":"#000","strokeWidth":1.3},
      "encoding":{"x":{"field":"t","type":"quantitative","scale":{"domain":[-3.2,417],"nice":false,"zero":false},"axis":null},
                  "y":{"field":"c","type":"quantitative","scale":{"domain":[30,96.07],"nice":false,"zero":false},"axis":null},"order":{"field":"o"}}},
     {"data":{"name":"sbA"},"mark":{"type":"line","color":"#000","strokeWidth":1.3},
      "encoding":{"x":{"field":"t","type":"quantitative","scale":{"domain":[-3.2,417],"nice":false,"zero":false},"axis":null},
                  "y":{"field":"c","type":"quantitative","scale":{"domain":[30,96.07],"nice":false,"zero":false},"axis":null},"order":{"field":"o"}}},
     {"data":{"name":"labA"},"mark":{"type":"text","fontSize":16,"align":"right","baseline":"middle","color":"#000"},
      "encoding":{"x":{"field":"t","type":"quantitative","scale":{"domain":[-3.2,417],"nice":false,"zero":false},"axis":null},
                  "y":{"field":"c","type":"quantitative","scale":{"domain":[30,96.07],"nice":false,"zero":false},"axis":null},"text":{"field":"s"}}},
     {"data":{"name":"nhA"},"mark":{"type":"text","fontSize":17,"fontStyle":"italic","align":"center","baseline":"middle","color":"#444"},
      "encoding":{"x":{"field":"t","type":"quantitative","scale":{"domain":[-3.2,417],"nice":false,"zero":false},"axis":null},
                  "y":{"field":"c","type":"quantitative","scale":{"domain":[30,96.07],"nice":false,"zero":false},"axis":null},"text":{"field":"s"}}}
   ],
   "resolve":{"scale":{"y":"independent"},"axis":{"y":"independent","x":"independent"}}
  }]
 },
 {
  "title":{"text":"B","fontSize":40,"anchor":"start","frame":"bounds","offset":17,"dx":-2},
  "vconcat":[{
   "title":{"text":"Naᵥ1.8 -/- S-type CMH","anchor":"start","frame":"group","fontSize":21,"offset":-22,"dx":11},
   "width":525,"height":401,
   "layer":[
     {"data":{"name":"thrB"},"mark":{"type":"line","color":"#000","strokeWidth":1.2},
      "encoding":{
       "x":{"field":"t","type":"quantitative","scale":{"domain":[-3.8,420],"nice":false,"zero":false},
            "axis":{"values":[0,30,60,90,120,150,180,210,240,270,300,330,360,390,420],"labelExpr":"datum.value % 60 == 0 ? datum.label : ''","tickSize":{"condition":{"test":"datum.value % 60 == 0","value":6},"value":4},"labelPadding":3,"title":"Time (s)","titlePadding":5}},
       "y":{"field":"v","type":"quantitative","scale":{"domain":[-6.47,10],"nice":false,"zero":false},
            "axis":{"values":[0,1,2,3,4,5,6,7,8,9,10],"domain":false,"tickSize":8,"labelPadding":3,"title":"Threshold (mA) and Frequency (1/s)","titleY":125,"titlePadding":17}}}},
     {"data":{"name":"tempB"},"mark":{"type":"line","color":"#000","strokeWidth":1.5},
      "encoding":{"x":{"field":"t","type":"quantitative","scale":{"domain":[-3.8,420],"nice":false,"zero":false},"axis":null},
                  "y":{"field":"c","type":"quantitative","scale":{"domain":[30,96.33],"nice":false,"zero":false},
                       "axis":{"orient":"right","values":[30,32.5,35,37.5,40,42.5,45,47.5,50],"labelExpr":"datum.value % 5 == 0 ? datum.label : ''","tickSize":{"condition":{"test":"datum.value % 5 == 0","value":6},"value":4},"domain":false,"labelPadding":10,"title":"Temp (°C)","titleAngle":270,"titleBaseline":"top","titleY":363,"titlePadding":8}}}},
     {"data":{"name":"freqB"},"mark":{"type":"point","filled":true,"color":"#22ee22","size":14,"opacity":1},
      "encoding":{"x":{"field":"t","type":"quantitative","scale":{"domain":[-3.8,420],"nice":false,"zero":false},"axis":null},
                  "y":{"field":"f","type":"quantitative","scale":{"domain":[-6.47,10],"nice":false,"zero":false},"axis":null}}},
     {"data":{"name":"wavB"},"mark":{"type":"line","color":"#22ee22","strokeWidth":2.5,"interpolate":"monotone"},
      "encoding":{"x":{"field":"t","type":"quantitative","scale":{"domain":[-3.8,420],"nice":false,"zero":false},"axis":null},
                  "y":{"field":"v","type":"quantitative","scale":{"domain":[-6.47,10],"nice":false,"zero":false},"axis":null}}},
     {"data":{"values":[{}]},"mark":{"type":"rule","color":"#000","strokeWidth":1.5},
      "encoding":{"x":{"datum":-3.8,"type":"quantitative","scale":{"domain":[-3.8,420],"nice":false,"zero":false},"axis":null},
                  "y":{"datum":0,"type":"quantitative","scale":{"domain":[-6.47,10],"nice":false,"zero":false},"axis":null},"y2":{"datum":10}}},
     {"data":{"values":[{}]},"mark":{"type":"rule","color":"#000","strokeWidth":1.5},
      "encoding":{"x":{"datum":420,"type":"quantitative","scale":{"domain":[-3.8,420],"nice":false,"zero":false},"axis":null},
                  "y":{"datum":30,"type":"quantitative","scale":{"domain":[30,96.33],"nice":false,"zero":false},"axis":null},"y2":{"datum":50}}},
     {"data":{"values":[{}]},"mark":{"type":"rule","color":"#222","strokeWidth":1,"strokeDash":[5,3]},
      "encoding":{"x":{"datum":332,"type":"quantitative","scale":{"domain":[-3.8,420],"nice":false,"zero":false},"axis":null},
                  "y":{"datum":45.85,"type":"quantitative","scale":{"domain":[30,96.33],"nice":false,"zero":false},"axis":null},"y2":{"datum":60.1}}},
     {"data":{"values":[{}]},"mark":{"type":"rule","color":"#222","strokeWidth":1,"strokeDash":[5,3]},
      "encoding":{"x":{"datum":332,"type":"quantitative","scale":{"domain":[-3.8,420],"nice":false,"zero":false},"axis":null},"x2":{"datum":420},
                  "y":{"datum":45.85,"type":"quantitative","scale":{"domain":[30,96.33],"nice":false,"zero":false},"axis":null}}},
     {"data":{"values":[{}]},"mark":{"type":"rect","fill":"white","stroke":"#000","strokeWidth":1.3,"cornerRadius":8},
      "encoding":{"x":{"datum":4.0,"type":"quantitative","scale":{"domain":[-3.8,420],"nice":false,"zero":false},"axis":null},"x2":{"datum":84},
                  "y":{"datum":37.27,"type":"quantitative","scale":{"domain":[30,96.33],"nice":false,"zero":false},"axis":null},"y2":{"datum":50.7}}},
     {"data":{"name":"insB"},"mark":{"type":"line","color":"#000","strokeWidth":1.5,"interpolate":"monotone"},
      "encoding":{"x":{"field":"t","type":"quantitative","scale":{"domain":[-3.8,420],"nice":false,"zero":false},"axis":null},
                  "y":{"field":"c","type":"quantitative","scale":{"domain":[30,96.33],"nice":false,"zero":false},"axis":null}}},
     {"data":{"name":"brB"},"mark":{"type":"line","color":"#000","strokeWidth":1.3},
      "encoding":{"x":{"field":"t","type":"quantitative","scale":{"domain":[-3.8,420],"nice":false,"zero":false},"axis":null},
                  "y":{"field":"c","type":"quantitative","scale":{"domain":[30,96.33],"nice":false,"zero":false},"axis":null},"order":{"field":"o"}}},
     {"data":{"name":"sbB"},"mark":{"type":"line","color":"#000","strokeWidth":1.3},
      "encoding":{"x":{"field":"t","type":"quantitative","scale":{"domain":[-3.8,420],"nice":false,"zero":false},"axis":null},
                  "y":{"field":"c","type":"quantitative","scale":{"domain":[30,96.33],"nice":false,"zero":false},"axis":null},"order":{"field":"o"}}},
     {"data":{"name":"dotB"},"mark":{"type":"point","filled":true,"color":"#33dd33","stroke":"#1a8a1a","strokeWidth":0.8,"size":16,"opacity":1},
      "encoding":{"x":{"field":"t","type":"quantitative","scale":{"domain":[-3.8,420],"nice":false,"zero":false},"axis":null},
                  "y":{"field":"c","type":"quantitative","scale":{"domain":[30,96.33],"nice":false,"zero":false},"axis":null}}}
   ],
   "resolve":{"scale":{"y":"independent"},"axis":{"y":"independent","x":"independent"}}
  }]
 }
 ]},
 {
  "title":{"text":"C","fontSize":40,"anchor":"start","frame":"bounds","offset":-16,"dx":-2},
  "resolve":{"scale":{"color":"independent"},"legend":{"color":"independent"}},
  "vconcat":[{
   "width":552,"height":334,
   "data":{"name":"bars"},
   "encoding":{
    "x":{"field":"temp","type":"ordinal","scale":{"paddingInner":0,"paddingOuter":0.02},"axis":{"ticks":false,"labelAngle":0,"labelPadding":8,"title":"Temperature (°C)","titlePadding":3}}
   },
   "layer":[
    {"transform":[{"filter":"datum.k == 'g'"}],"mark":{"type":"bar","width":28,"xOffset":9,"stroke":"#1a1a1a","strokeWidth":1.5},
     "encoding":{"y":{"field":"mean","type":"quantitative","stack":null,"scale":{"domain":[0,25],"nice":false},
        "axis":{"values":[0,2.5,5,7.5,10,12.5,15,17.5,20,22.5,25],"labelExpr":"datum.value % 5 == 0 ? datum.label : ''","tickSize":{"condition":{"test":"datum.value % 5 == 0","value":8},"value":5},"labelPadding":3,"title":"Threshold (fold of 30°C value)","titlePadding":17}},
      "color":{"field":"series","type":"nominal","scale":{"domain":["Naᵥ1.9 -/- S-type CMH","Naᵥ1.8 -/- S-type CMH"],"range":["#0000ff","#00ff00"]},
        "legend":{"orient":"top-left","offset":0,"padding":0,"symbolOffset":15,"title":null,"labelFontSize":21,"labelLimit":400,"symbolType":"M-1.3,-1H1.3V1H-1.3Z","symbolSize":441,"symbolStrokeColor":"#222","symbolStrokeWidth":1,"symbolOpacity":1,"rowPadding":10,"labelOffset":8}}}},
    {"transform":[{"filter":"datum.k == 'g'"}],"mark":{"type":"rule","xOffset":9,"strokeWidth":1.5},
     "encoding":{"y":{"field":"mean","type":"quantitative","scale":{"domain":[0,25],"nice":false}},"y2":{"field":"err"},
      "color":{"condition":{"test":"datum.temp == '50'","value":"#aaaaaa"},"value":"#111"}}},
    {"transform":[{"filter":"datum.k == 'g'"}],"mark":{"type":"tick","xOffset":9,"size":12,"thickness":1.5,"orient":"horizontal"},
     "encoding":{"y":{"field":"err","type":"quantitative","scale":{"domain":[0,25],"nice":false}},
      "color":{"condition":{"test":"datum.temp == '50'","value":"#aaaaaa"},"value":"#111"}}},
    {"transform":[{"filter":"datum.k == 'b'"}],"mark":{"type":"bar","width":28,"xOffset":-8,"stroke":"#1a1a1a","strokeWidth":1.5},
     "encoding":{"y":{"field":"mean","type":"quantitative","stack":null,"scale":{"domain":[0,25],"nice":false}},
      "color":{"field":"series","type":"nominal","scale":{"domain":["Naᵥ1.9 -/- S-type CMH","Naᵥ1.8 -/- S-type CMH"],"range":["#0000ff","#00ff00"]}}}},
    {"transform":[{"filter":"datum.k == 'b'"}],"mark":{"type":"rule","xOffset":-8,"strokeWidth":1.5},
     "encoding":{"y":{"field":"mean","type":"quantitative","scale":{"domain":[0,25],"nice":false}},"y2":{"field":"err"},
      "color":{"condition":{"test":"datum.temp == '50'","value":"#aaaaaa"},"value":"#111"}}},
    {"transform":[{"filter":"datum.k == 'b'"}],"mark":{"type":"tick","xOffset":-8,"size":12,"thickness":1.5,"orient":"horizontal"},
     "encoding":{"y":{"field":"err","type":"quantitative","scale":{"domain":[0,25],"nice":false}},
      "color":{"condition":{"test":"datum.temp == '50'","value":"#aaaaaa"},"value":"#111"}}}
   ]
  }]
 }
]
}
